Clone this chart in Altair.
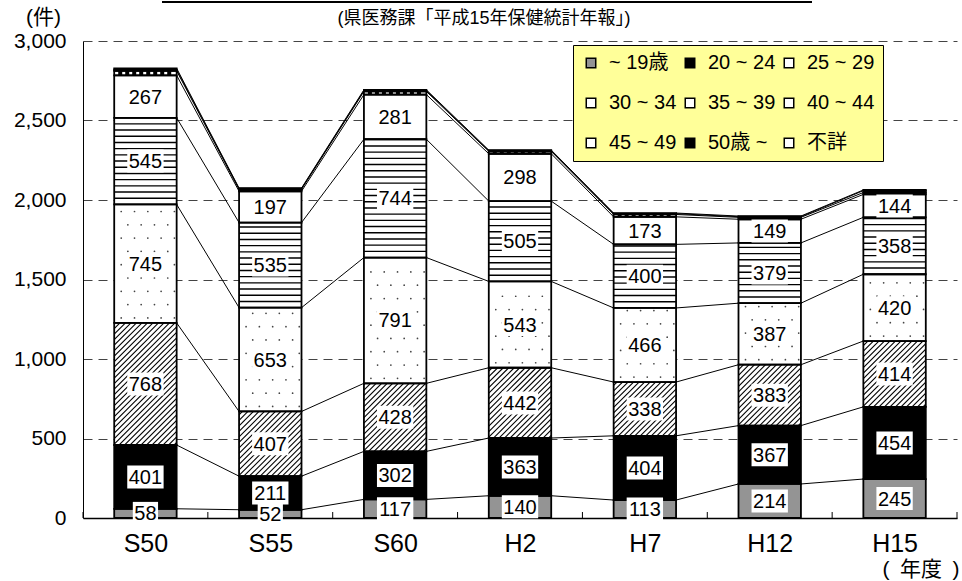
import json
import altair as alt
import pandas as pd

# ---------------- data ----------------
years = ["S50", "S55", "S60", "H2", "H7", "H12", "H15"]
groups = ["~ 19歳", "20 ~ 24", "25 ~ 29", "30 ~ 34", "35 ~ 39", "40 ~ 44", "45 ~ 49", "50歳 ~", "不詳"]
v_u19 = [58, 52, 117, 140, 113, 214, 245]
v_20 = [401, 211, 302, 363, 404, 367, 454]
v_25 = [768, 407, 428, 442, 338, 383, 414]
v_30 = [745, 653, 791, 543, 466, 387, 420]
v_35 = [545, 535, 744, 505, 400, 379, 358]
v_40 = [267, 197, 281, 298, 173, 149, 144]
v_45 = [28, 12, 20, 15, 15, 12, 12]
v_50 = [8, 4, 5, 4, 5, 4, 12]
v_unk = [8, 4, 5, 4, 4, 4, 4]
y_ticks = [0, 500, 1000, 1500, 2000, 2500, 3000]
subtitle = "(県医務課「平成15年保健統計年報」)"
x_title = "(\u2002年度\u2002)"

series = [v_u19, v_20, v_25, v_30, v_35, v_40, v_45, v_50, v_unk]
rows = []
for gi, (g, vals) in enumerate(zip(groups, series)):
    for i, v in enumerate(vals):
        rows.append({"i": i, "g": g, "gi": gi, "v": v})
df = pd.DataFrame(rows)

# ---------------- styling ----------------
W, H = 874, 477
YMAX = 3000
KX = W / len(years)          # px per x unit
KY = H / YMAX                # px per y unit
HB = 0.25                    # half bar width (x units)
BWP = 2 * HB * KX            # bar width px
FONT = "Liberation Sans, Arial, Noto Sans CJK JP"
CJK = "Liberation Sans, Noto Sans CJK JP"
fills = ["#949494", "black", "white", "white", "white", "white", "white", "black", "white"]

xs = alt.Scale(domain=[-0.5, len(years) - 0.5], nice=False, zero=False)
ys = alt.Scale(domain=[0, YMAX], nice=False)

xaxis = alt.Axis(
    values=list(range(len(years))),
    labelExpr=f"{json.dumps(years)}[datum.value]",
    grid=False, ticks=False, domain=True, domainColor="black", domainWidth=1.5,
    labelFont=FONT, labelFontSize=25, labelColor="black", labelPadding=13,
    title=x_title, titleFont=CJK, titleFontSize=21, titleFontWeight="normal",
    titleColor="black", titleAlign="right", titleBaseline="alphabetic",
    titleX=W + 2, titleY=57, titleAngle=0,
)
yaxis = alt.Axis(
    values=y_ticks, format=",d", grid=True, gridDash=[9, 6], gridColor="#444444",
    gridWidth=1, ticks=False, domain=True, domainColor="black", domainWidth=1,
    labelFont=FONT, labelFontSize=21, labelColor="black", labelPadding=17,
    title="(件)", titleFont=CJK, titleFontSize=21, titleFontWeight="normal",
    titleColor="black", titleAngle=0, titleAlign="center", titleBaseline="middle",
    titleX=-40, titleY=-24,
)


def X(f):
    return alt.X(f, type="quantitative", scale=xs, axis=xaxis)


def Y(f):
    return alt.Y(f, type="quantitative", scale=ys, axis=yaxis)


base = alt.Chart(df).transform_stack(
    stack="v", groupby=["i"], as_=["y0", "y1"], sort=[alt.SortField("gi", order="ascending")]
).transform_calculate(
    xl=f"datum.i - {HB}", xr=f"datum.i + {HB}",
    bh=f"(datum.y1 - datum.y0) * {KY}",
)

# base fills + legend
fill_layer = base.mark_rect(strokeWidth=0).encode(
    x=X("xl"), x2="xr", y=Y("y0"), y2="y1",
    fill=alt.Fill(
        "g:N", scale=alt.Scale(domain=groups, range=fills),
        legend=alt.Legend(
            title=None, orient="none", legendX=490, legendY=4, columns=3,
            direction="horizontal", fillColor="#FFFF99", strokeColor="black",
            padding=8, symbolType="square", symbolSize=90,
            symbolStrokeColor="black", symbolStrokeWidth=1.5,
            labelFont=CJK, labelFontSize=20, labelColor="black", labelOffset=8,
            columnPadding=3, rowPadding=20, labelLimit=300,
        ),
    ),
)

# diagonal hatching for 25~29
S = 5.5
hatch = base.transform_filter("datum.gi == 2").transform_calculate(
    ks=f"sequence(0, ceil(({BWP} + datum.bh) / {S}) + 2)"
).transform_flatten(["ks"], as_=["k"]).transform_calculate(
    c=f"-{BWP} + datum.k * {S} + {S / 2}"
).transform_filter(
    f"datum.c < datum.bh && datum.c > -{BWP}"
).transform_calculate(
    hs="max(0, -datum.c)", he=f"min({BWP}, datum.bh - datum.c)"
).transform_calculate(
    xa=f"datum.i - {HB} + datum.hs / {KX}",
    xb=f"datum.i - {HB} + datum.he / {KX}",
    ya=f"datum.y0 + (datum.hs + datum.c) / {KY}",
    yb=f"datum.y0 + (datum.he + datum.c) / {KY}",
).mark_rule(color="black", strokeWidth=1.1).encode(
    x=X("xa"), x2="xb", y=Y("ya"), y2="yb"
)

# dots for 30~34
DX, DY = 13.3, 13.3
dots = base.transform_filter("datum.gi == 3").transform_calculate(
    rs=f"sequence(0, floor(datum.bh / {DY}) + 1)"
).transform_flatten(["rs"], as_=["r"]).transform_calculate(
    py=f"5 + datum.r * {DY}"
).transform_filter("datum.py < datum.bh - 2").transform_calculate(
    cs="sequence(0, 6)"
).transform_flatten(["cs"], as_=["cc"]).transform_calculate(
    px=f"7 + datum.cc * {DX} + (datum.r % 2) * {DX / 2}"
).transform_filter(f"datum.px < {BWP} - 2").transform_calculate(
    xa=f"datum.i - {HB} + datum.px / {KX}",
    ya=f"datum.y0 + datum.py / {KY}",
).mark_circle(size=3, color="#444444", opacity=1).encode(x=X("xa"), y=Y("ya"))

# horizontal lines for 35~39
HS = 6.2
hlines = base.transform_filter("datum.gi == 4").transform_calculate(
    ks=f"sequence(1, floor(datum.bh / {HS}) + 1)"
).transform_flatten(["ks"], as_=["k"]).transform_calculate(
    py=f"datum.k * {HS}"
).transform_filter("datum.py < datum.bh - 1").transform_calculate(
    ya=f"datum.y0 + datum.py / {KY}"
).mark_rule(color="black", strokeWidth=1.4).encode(x=X("xl"), x2="xr", y=Y("ya"))

# vertical lines for 45~49
VS = 7
vlines = base.transform_filter("datum.gi == 6").transform_calculate(
    ks=f"sequence(1, floor({BWP} / {VS}) + 1)"
).transform_flatten(["ks"], as_=["k"]).transform_calculate(
    px=f"datum.k * {VS} - 1"
).transform_filter(f"datum.px < {BWP} - 1").transform_calculate(
    xa=f"datum.i - {HB} + datum.px / {KX}"
).mark_rule(color="black", strokeWidth=4).encode(x=X("xa"), y=Y("y0"), y2="y1")

# segment borders
borders = base.mark_rect(fillOpacity=0, stroke="black", strokeWidth=1.8).encode(
    x=X("xl"), x2="xr", y=Y("y0"), y2="y1"
)

# series lines between bars
slines = base.transform_window(
    nxt="lead(y1)", groupby=["g"], sort=[alt.SortField("i")]
).transform_filter("datum.nxt != null").transform_calculate(
    xa=f"datum.i + {HB}", xb=f"datum.i + 1 - {HB}"
).mark_rule(color="black", strokeWidth=1).encode(x=X("xa"), x2="xb", y=Y("y1"), y2="nxt")

# x-axis inner ticks at band boundaries
ticks = alt.Chart(alt.sequence(-0.5, len(years), 1, as_="b")).transform_calculate(
    ya="0", yb=f"6 / {KY}"
).mark_rule(color="black", strokeWidth=1).encode(x=X("b"), y=Y("ya"), y2="yb")

# label boxes and text
labeled = base.transform_filter("datum.gi <= 5").transform_calculate(
    ym="(datum.y0 + datum.y1) / 2",
    nd="length(toString(datum.v))",
).transform_calculate(
    bxa=f"datum.i - (datum.nd * 5.56 + 1.5) / {KX}",
    bxb=f"datum.i + (datum.nd * 5.56 + 1.5) / {KX}",
    bya=f"datum.ym - 11.5 / {KY}",
    byb=f"datum.ym + 11.5 / {KY}",
)
boxes = labeled.mark_rect(fill="white", strokeWidth=0).encode(
    x=X("bxa"), x2="bxb", y=Y("bya"), y2="byb"
)
texts = labeled.mark_text(font=FONT, fontSize=20, color="black", baseline="middle", dy=1).encode(
    x=X("i"), y=Y("ym"), text="v:Q"
)

# heading remnants
head = pd.DataFrame({"t": [subtitle]})
underline = alt.Chart(head).mark_rule(color="black", strokeWidth=2).encode(
    x=alt.value(79), x2=alt.value(729), y=alt.value(-39)
)
sub = alt.Chart(head).mark_text(font=CJK, fontSize=18, color="black", baseline="middle").encode(
    text="t:N", x=alt.value(401), y=alt.value(-22)
)

chart = alt.layer(
    fill_layer, hatch, dots, hlines, vlines, borders, slines, ticks, boxes, texts, underline, sub
).properties(
    width=W, height=H, autosize="none",
    padding={"left": 83, "top": 41, "right": 5, "bottom": 63},
    background="white",
).configure_view(stroke=None)

chart.save("out.html", embed_options={"renderer": "svg", "actions": False})
